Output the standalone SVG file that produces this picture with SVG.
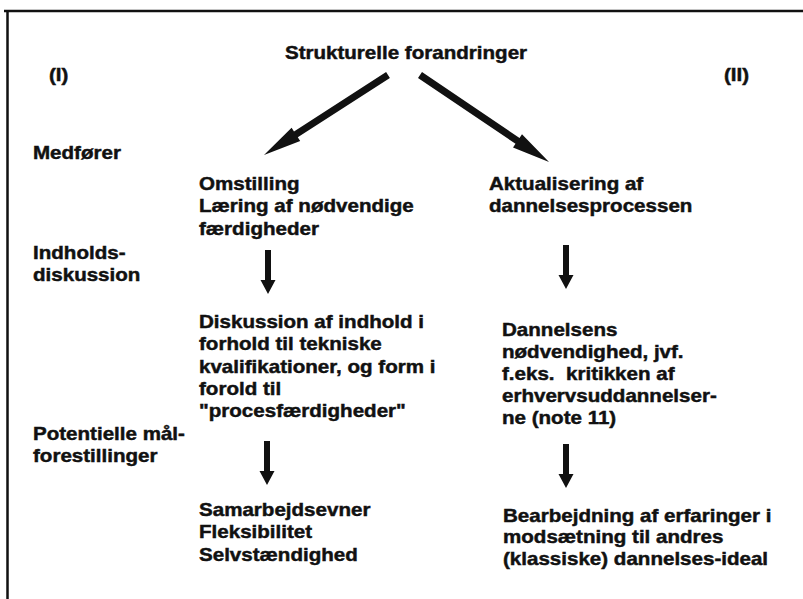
<svg xmlns="http://www.w3.org/2000/svg" width="803" height="599" viewBox="0 0 803 599">
<style>
  text { font-family: "Liberation Sans", Arial, Helvetica, sans-serif; font-weight: bold; font-size: 18px; fill: #111; stroke: #111; stroke-width: 0.45; }
  .frame { stroke: #111; stroke-width: 2.5; fill: none; }
  .arrow { fill: #111; }
</style>
<defs>
  <path id="varrow" d="M-3,0 H3 V30 H7.5 L0,44 L-7.5,30 H-3 Z"/>
</defs>
<rect width="803" height="599" fill="#fff"/>
<g id="frame">
  <path class="frame" d="M4,11 H803 M7.5,10 V599"/>
</g>
<g id="connectors" class="arrow">
  <polygon points="389.9,77.9 297.8,137.3 300.2,141.1 264,155 291.6,127.7 294.0,131.5 386.1,72.1"/>
  <polygon points="418.0,77.9 515.5,143.7 513.0,147.4 549,162 522.0,134.2 519.5,137.9 422.0,72.1"/>
  <use href="#varrow" transform="translate(268,250)"/>
  <use href="#varrow" transform="translate(566,245)"/>
  <use href="#varrow" transform="translate(267,441)"/>
  <use href="#varrow" transform="translate(566,444)"/>
</g>
<g id="title"><text transform="translate(406,59) scale(1.143,1)" text-anchor="middle">Strukturelle forandringer</text></g>
<g id="label-I"><text transform="translate(49,81) scale(1.143,1)">(I)</text></g>
<g id="label-II"><text transform="translate(724,81) scale(1.143,1)">(II)</text></g>
<g id="label-medforer"><text transform="translate(33,159) scale(1.143,1)">Medfører</text></g>
<g id="label-indhold"><text transform="translate(33,259) scale(1.143,1)"><tspan x="0">Indholds-</tspan><tspan x="0" dy="22.5">diskussion</tspan></text></g>
<g id="label-potentielle"><text transform="translate(33,440) scale(1.143,1)"><tspan x="0">Potentielle mål-</tspan><tspan x="0" dy="22.5">forestillinger</tspan></text></g>
<g id="node-omstilling"><text transform="translate(199,190) scale(1.143,1)"><tspan x="0">Omstilling</tspan><tspan x="0" dy="22.5">Læring af nødvendige</tspan><tspan x="0" dy="22.5">færdigheder</tspan></text></g>
<g id="node-aktualisering"><text transform="translate(489,190) scale(1.143,1)"><tspan x="0">Aktualisering af</tspan><tspan x="0" dy="22.5">dannelsesprocessen</tspan></text></g>
<g id="node-diskussion"><text transform="translate(199,328) scale(1.143,1)"><tspan x="0">Diskussion af indhold i</tspan><tspan x="0" dy="22.3">forhold til tekniske</tspan><tspan x="0" dy="22.3">kvalifikationer, og form i</tspan><tspan x="0" dy="22.3">forold til</tspan><tspan x="0" dy="22.3">"procesfærdigheder"</tspan></text></g>
<g id="node-dannelsens"><text transform="translate(502,336) scale(1.143,1)" style="white-space:pre"><tspan x="0">Dannelsens</tspan><tspan x="0" dy="22">nødvendighed, jvf.</tspan><tspan x="0" dy="22">f.eks.  kritikken af</tspan><tspan x="0" dy="22">erhvervsuddannelser-</tspan><tspan x="0" dy="22">ne (note 11)</tspan></text></g>
<g id="node-samarbejde"><text transform="translate(199,516) scale(1.143,1)"><tspan x="0">Samarbejdsevner</tspan><tspan x="0" dy="22.5">Fleksibilitet</tspan><tspan x="0" dy="22.5">Selvstændighed</tspan></text></g>
<g id="node-bearbejdning"><text transform="translate(503,522) scale(1.143,1)"><tspan x="0">Bearbejdning af erfaringer i</tspan><tspan x="0" dy="21.5">modsætning til andres</tspan><tspan x="0" dy="21.5">(klassiske) dannelses-ideal</tspan></text></g>
</svg>
